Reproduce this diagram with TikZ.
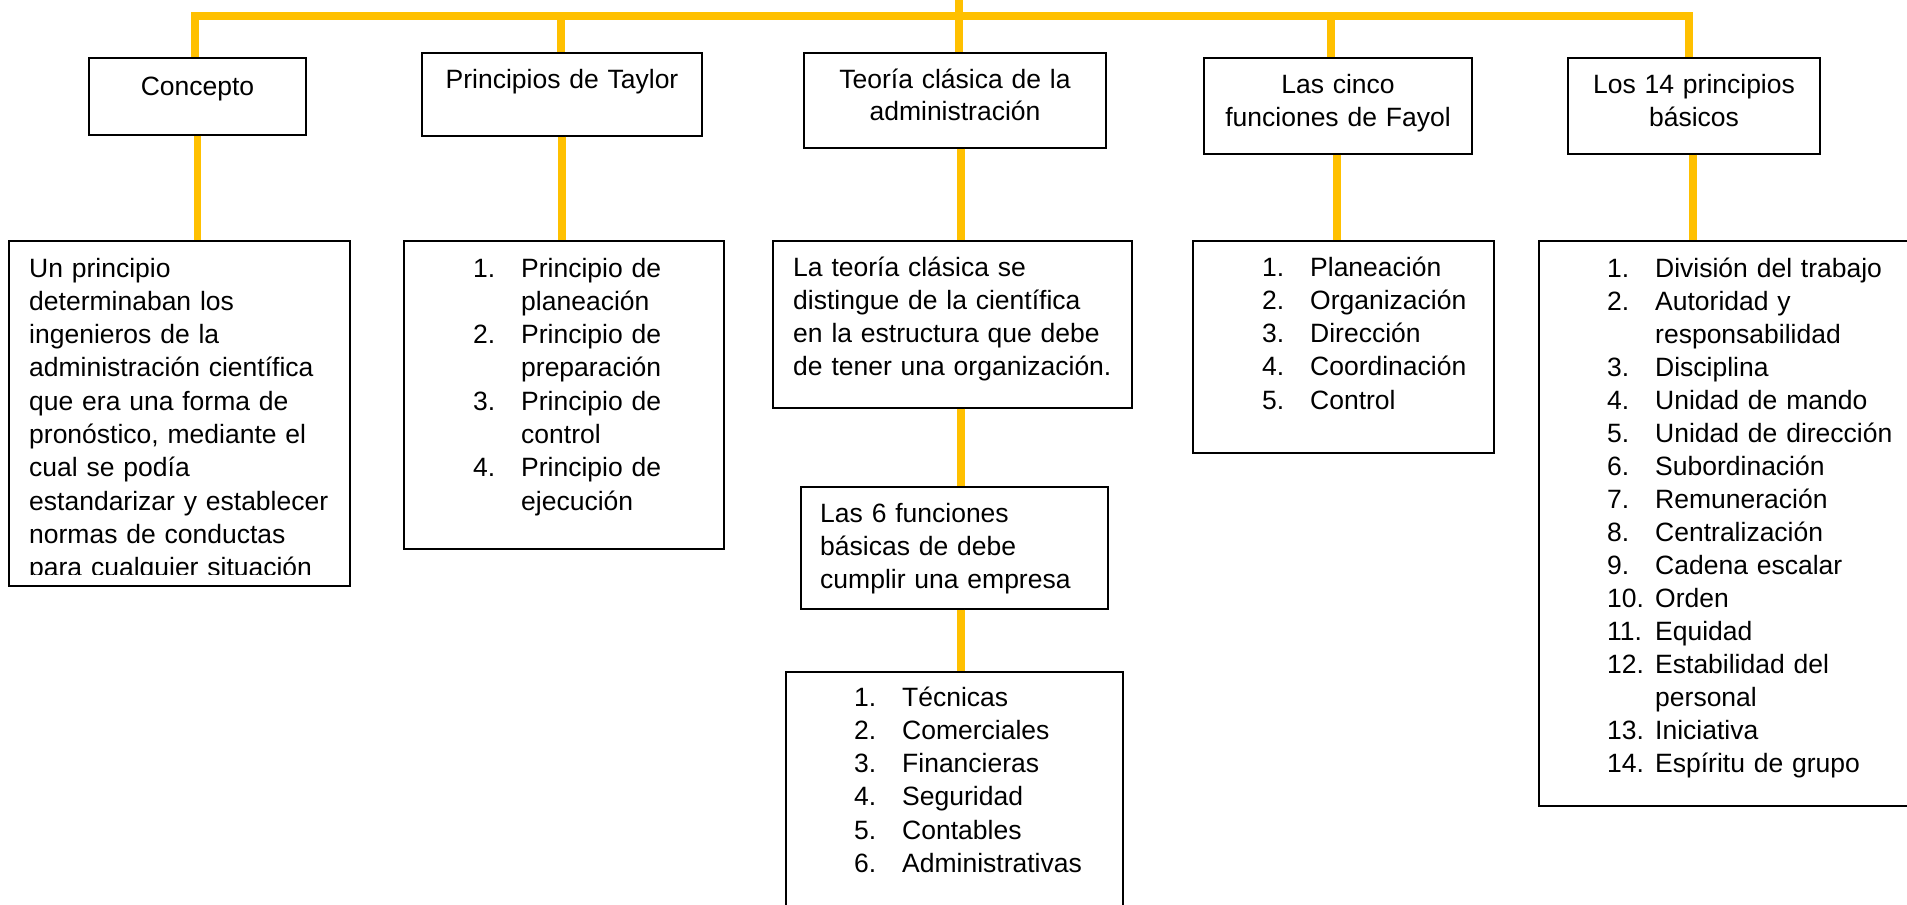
\documentclass[tikz,border=0pt]{standalone}
\usepackage{fontspec}
\setmainfont{Liberation Sans}
\definecolor{gold}{RGB}{255,192,0}
\newcommand{\nitem}[2]{\makebox[48pt][l]{#1}#2}
\newcommand{\contline}{\hspace*{48pt}}
\tikzset{
  box/.style={draw=black, line width=1.2pt, fill=white, inner sep=0pt, rectangle},
  conn/.style={draw=gold, line width=7.5pt},
  txt/.style={inner sep=0pt, font=\fontsize{26.5}{33.3}\selectfont, align=left, text width=340pt, anchor=base west},
  ctxt/.style={inner sep=0pt, font=\fontsize{26.5}{32.5}\selectfont, align=center, anchor=base},
}
\begin{document}
\begin{tikzpicture}[x=1pt, y=-1pt]
\useasboundingbox (0,0) rectangle (1907,905);
\clip (0,0) rectangle (1907,905);

% top row boxes
\node[box, minimum width=217pt, minimum height=77pt] (concept) at (197.5,96.5) {};
\node[box, minimum width=280pt, minimum height=83pt] (taylor) at (562,94.5) {};
\node[box, minimum width=302pt, minimum height=95pt] (teoria) at (955,100.5) {};
\node[box, minimum width=268pt, minimum height=96pt] (fayol) at (1338,106) {};
\node[box, minimum width=252pt, minimum height=96pt] (los14) at (1694,106) {};

% lower boxes
\node[box, minimum width=341pt, minimum height=345pt] (conceptL) at (179.5,413.5) {};
\node[box, minimum width=320pt, minimum height=308pt] (taylorL) at (564,395) {};
\node[box, minimum width=359pt, minimum height=167pt] (teoriaL) at (952.5,324.5) {};
\node[box, minimum width=307pt, minimum height=122pt] (seis) at (954.5,548) {};
\node[box, minimum width=337pt, minimum height=270pt] (seisL) at (954.5,807) {};
\node[box, minimum width=301pt, minimum height=212pt] (fayolL) at (1343.5,347) {};
\node[box, minimum width=391pt, minimum height=565pt] (los14L) at (1734.5,523.5) {};

% top texts
\node[ctxt, text width=217pt] (conceptT) at (197.5,95) {Concepto};
\node[ctxt, text width=280pt] (taylorT) at (562,88) {Principios de Taylor};
\node[ctxt, text width=302pt] (teoriaT) at (955,88) {Teoría clásica de la\\administración};
\node[ctxt, text width=268pt] (fayolT) at (1338,93.5) {Las cinco\\funciones de Fayol};
\node[ctxt, text width=252pt] (los14T) at (1694,93.5) {Los 14 principios\\básicos};

% concept lower text (clipped at the bottom as in the original)
\begin{scope}
\clip (9,241) rectangle (350,574);
\node[txt] (conceptLT) at (29,277) {Un principio\\
determinaban los\\
ingenieros de la\\
administración científica\\
que era una forma de\\
pronóstico, mediante el\\
cual se podía\\
estandarizar y establecer\\
normas de conductas\\
para cualquier situación};
\end{scope}

\node[txt] (taylorLT) at (473,277) {\nitem{1.}{Principio de}\\
\contline planeación\\
\nitem{2.}{Principio de}\\
\contline preparación\\
\nitem{3.}{Principio de}\\
\contline control\\
\nitem{4.}{Principio de}\\
\contline ejecución};

\node[txt] (teoriaLT) at (793,276) {La teoría clásica se\\
distingue de la científica\\
en la estructura que debe\\
de tener una organización.};

\node[txt, font=\fontsize{26.5}{33}\selectfont] (seisT) at (820,522) {Las 6 funciones\\
básicas de debe\\
cumplir una empresa};

\node[txt] (seisLT) at (854,706) {\nitem{1.}{Técnicas}\\
\nitem{2.}{Comerciales}\\
\nitem{3.}{Financieras}\\
\nitem{4.}{Seguridad}\\
\nitem{5.}{Contables}\\
\nitem{6.}{Administrativas}};

\node[txt] (fayolLT) at (1262,276) {\nitem{1.}{Planeación}\\
\nitem{2.}{Organización}\\
\nitem{3.}{Dirección}\\
\nitem{4.}{Coordinación}\\
\nitem{5.}{Control}};

\node[txt, font=\fontsize{26.5}{33}\selectfont, text width=300pt] (los14LT) at (1607,277) {\nitem{1.}{División del trabajo}\\
\nitem{2.}{Autoridad y}\\
\contline responsabilidad\\
\nitem{3.}{Disciplina}\\
\nitem{4.}{Unidad de mando}\\
\nitem{5.}{Unidad de dirección}\\
\nitem{6.}{Subordinación}\\
\nitem{7.}{Remuneración}\\
\nitem{8.}{Centralización}\\
\nitem{9.}{Cadena escalar}\\
\nitem{10.}{Orden}\\
\nitem{11.}{Equidad}\\
\nitem{12.}{Estabilidad del}\\
\contline personal\\
\nitem{13.}{Iniciativa}\\
\nitem{14.}{Espíritu de grupo}};

% connectors
\coordinate (b1) at (195,15.8);
\coordinate (b2) at (561,15.8);
\coordinate (b3) at (959,-6);
\coordinate (b4) at (1331,15.8);
\coordinate (b5) at (1689,15.8);
\coordinate (t1) at (961,0);
\coordinate (f1) at (1337,0);
\coordinate (l1) at (1693,0);

\draw[conn, line cap=rect] (b1) -- (b5);
\draw[conn] (b1) -- (b1 |- concept.north);
\draw[conn] (b2) -- (b2 |- taylor.north);
\draw[conn] (b3) -- (b3 |- teoria.north);
\draw[conn] (b4) -- (b4 |- fayol.north);
\draw[conn] (b5) -- (b5 |- los14.north);

\draw[conn] (concept.south) -- (concept.south |- conceptL.north);
\draw[conn] (taylor.south) -- (taylor.south |- taylorL.north);
\draw[conn] (t1 |- teoria.south) -- (t1 |- teoriaL.north);
\draw[conn] (t1 |- teoriaL.south) -- (t1 |- seis.north);
\draw[conn] (t1 |- seis.south) -- (t1 |- seisL.north);
\draw[conn] (f1 |- fayol.south) -- (f1 |- fayolL.north);
\draw[conn] (l1 |- los14.south) -- (l1 |- los14L.north);
\end{tikzpicture}
\end{document}
